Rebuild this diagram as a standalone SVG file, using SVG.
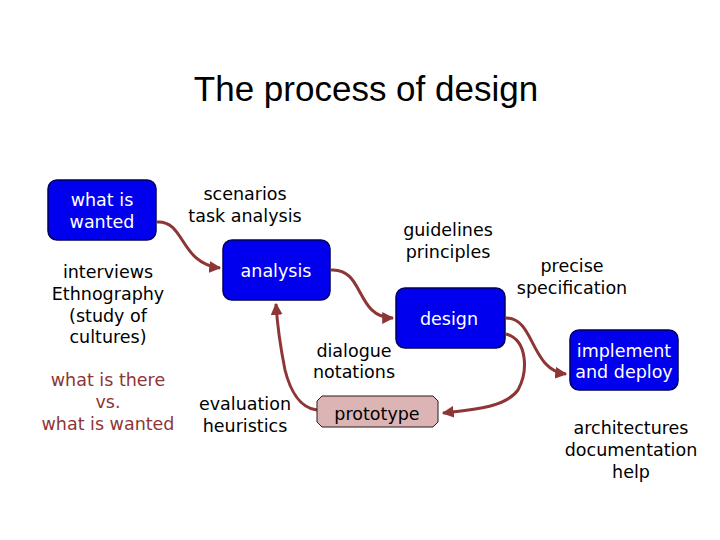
<svg xmlns="http://www.w3.org/2000/svg" width="720" height="540" viewBox="0 0 720 540">
<defs>
<marker id="ah" viewBox="0 0 10 10" refX="9" refY="5" markerWidth="4" markerHeight="4" orient="auto" markerUnits="strokeWidth">
<path d="M0,0 L10,5 L0,10 z" fill="#8e3535"/>
</marker>
<style>
.box{fill:#0000ee;stroke:#00005a;stroke-width:1.5}
.wt{font-family:"DejaVu Sans",Verdana,sans-serif;font-size:17.5px;fill:#ffffff;text-anchor:middle}
.bt{font-family:"DejaVu Sans",Verdana,sans-serif;font-size:17.5px;fill:#000000;text-anchor:middle}
.rt{font-family:"DejaVu Sans",Verdana,sans-serif;font-size:17.5px;fill:#8e3535;text-anchor:middle}
.con{fill:none;stroke:#8e3535;stroke-width:3;marker-end:url(#ah)}
</style>
</defs>
<rect width="720" height="540" fill="#ffffff"/>
<text x="366" y="101" font-family="Liberation Sans, Arial, sans-serif" font-size="35" text-anchor="middle" fill="#000">The process of design</text>

<g id="labels">
<text class="bt" x="108" y="278">interviews</text>
<text class="bt" x="108" y="300">Ethnography</text>
<text class="bt" x="108" y="322">(study of</text>
<text class="bt" x="108" y="343">cultures)</text>
<text class="rt" x="108" y="386">what is there</text>
<text class="rt" x="108" y="408">vs.</text>
<text class="rt" x="108" y="430">what is wanted</text>
<text class="bt" x="245" y="200">scenarios</text>
<text class="bt" x="245" y="222">task analysis</text>
<text class="bt" x="448" y="236">guidelines</text>
<text class="bt" x="448" y="258">principles</text>
<text class="bt" x="572" y="272">precise</text>
<text class="bt" x="572" y="294">specification</text>
<text class="bt" x="354" y="357">dialogue</text>
<text class="bt" x="354" y="378">notations</text>
<text class="bt" x="245" y="410">evaluation</text>
<text class="bt" x="245" y="432">heuristics</text>
<text class="bt" x="631" y="434">architectures</text>
<text class="bt" x="631" y="456">documentation</text>
<text class="bt" x="631" y="478">help</text>
</g>

<g id="connectors">
<path class="con" d="M157,222 C185,220 180,264 220,268"/>
<path class="con" d="M331,270 C365,268 355,318 393,318"/>
<path class="con" d="M506,318 C535,318 530,370 566,374"/>
<path class="con" d="M506,334 C528,340 528,372 518,390 C505,408 470,410 443,413"/>
<path class="con" d="M317,410 C300,408 290,390 285,370 C280,345 277,320 276,304"/>
</g>

<g id="what-is-wanted">
<rect class="box" x="48" y="180" width="108" height="60" rx="9"/>
<text class="wt" x="102" y="206">what is</text>
<text class="wt" x="102" y="228">wanted</text>
</g>
<g id="analysis">
<rect class="box" x="223" y="240" width="107" height="60" rx="9"/>
<text class="wt" x="276" y="277">analysis</text>
</g>
<g id="design">
<rect class="box" x="396" y="288" width="109" height="60" rx="9"/>
<text class="wt" x="449" y="325">design</text>
</g>
<g id="implement">
<rect class="box" x="570" y="330" width="108" height="60" rx="9"/>
<text class="wt" x="624" y="357">implement</text>
<text class="wt" x="624" y="378">and deploy</text>
</g>
<g id="prototype">
<polygon points="322,396 433,396 438,401 438,422 433,427 322,427 317,422 317,401" fill="#dcb4b4" stroke="#2a1a1a" stroke-width="1"/>
<text class="bt" x="377" y="420">prototype</text>
</g>
</svg>
